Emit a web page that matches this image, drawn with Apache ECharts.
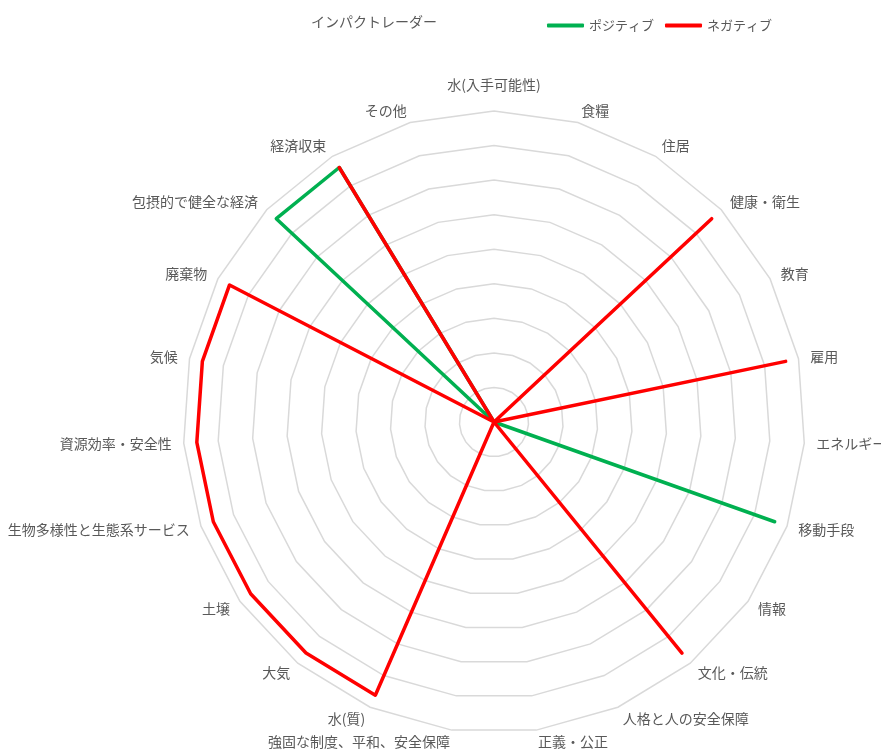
<!DOCTYPE html>
<html>
<head>
<meta charset="utf-8">
<script src="https://cdn.jsdelivr.net/npm/echarts@6/dist/echarts.min.js"></script>
<style>
html,body{margin:0;padding:0;background:#fff;}
#chart{width:881px;height:753px;}
</style>
</head>
<body>
<div id="chart"></div>
<script>
// Categories in clockwise order starting from the top
const categories = [
  '水(入手可能性)', '食糧', '住居', '健康・衛生', '教育', '雇用', 'エネルギー',
  '移動手段', '情報', '文化・伝統', '人格と人の安全保障', '正義・公正',
  '強固な制度、平和、安全保障', '水(質)', '大気', '土壌',
  '生物多様性と生態系サービス', '資源効率・安全性', '気候', '廃棄物',
  '包摂的で健全な経済', '経済収束', 'その他'
];
const positive = [0,0,0,0,0,0,0,8.62,0,0,0,0,0,0,0,0,0,0,0,0,8.62,8.62,0];
const negative = [0,0,0,8.62,0,8.62,0,0,0,8.62,0,0,0,8.62,8.62,8.62,8.62,8.62,8.62,8.62,0,8.62,0];
const axisMax = 9;
const rings = 9;

// ECharts lays out radar indicators counter-clockwise; reorder so they read clockwise
const order = [0].concat(categories.map((_, i) => i).slice(1).reverse());
const indicator = order.map(i => ({ name: categories[i], min: 0, max: axisMax }));
const pos = order.map(i => positive[i]);
const neg = order.map(i => negative[i]);

const chart = echarts.init(document.getElementById('chart'), null, { renderer: 'canvas' });
const font = 'Noto Sans CJK JP';
chart.setOption({
  backgroundColor: '#ffffff',
  animation: false,
  title: {
    text: 'インパクトレーダー',
    left: 306, top: 10,
    textStyle: { color: '#595959', fontSize: 14, fontWeight: 'normal', fontFamily: font }
  },
  legend: {
    left: 542, top: 14,
    itemWidth: 37, itemHeight: 4, itemGap: 11,
    icon: 'roundRect',
    textStyle: { color: '#595959', fontSize: 13, fontFamily: font },
    data: ['ポジティブ', 'ネガティブ']
  },
  radar: {
    center: [494, 422],
    radius: 311,
    startAngle: 90,
    splitNumber: rings,
    shape: 'polygon',
    indicator: indicator,
    nameGap: 12,
    axisName: {
      color: '#595959', fontSize: 14, fontFamily: font,
      formatter: function (name) {
        return name === categories[0] ? '{t|' + name + '}' : name;
      },
      rich: { t: { color: '#595959', fontSize: 14, fontFamily: font, padding: [0, 0, 7, 0] } }
    },
    axisLine: { show: false },
    axisTick: { show: false },
    axisLabel: { show: false },
    splitArea: { show: false },
    splitLine: { lineStyle: { color: '#d9d9d9', width: 1.5 } }
  },
  series: [{
    type: 'radar',
    symbol: 'none',
    data: [
      { name: 'ポジティブ', value: pos,
        itemStyle: { color: '#00b050' },
        lineStyle: { color: '#00b050', width: 3.5, cap: 'round', join: 'round' } },
      { name: 'ネガティブ', value: neg,
        itemStyle: { color: '#ff0000' },
        lineStyle: { color: '#ff0000', width: 3.5, cap: 'round', join: 'round' } }
    ]
  }]
});
</script>
</body>
</html>
